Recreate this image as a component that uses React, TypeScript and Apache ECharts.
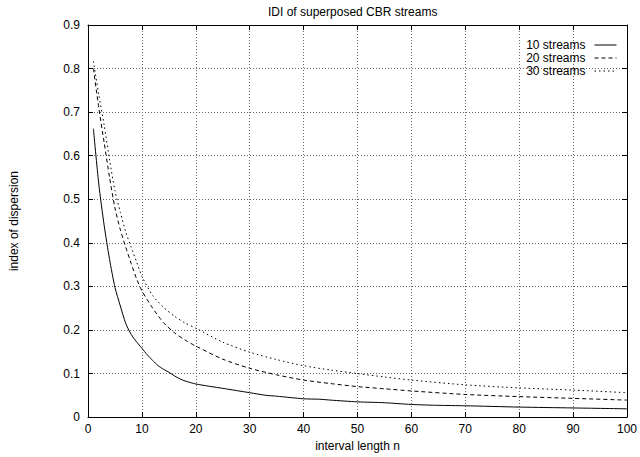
import React, { useEffect, useRef } from "react";
import * as echarts from "echarts";

const nValues10 = [1, 2, 3, 4, 5, 6, 7, 8, 9, 10, 11, 12, 13, 14, 15, 16, 17, 18, 20, 25, 30, 33, 35, 40, 43, 45, 50, 55, 60, 65, 70, 80, 90, 100];
const streams10 = [0.662, 0.535, 0.44, 0.362, 0.298, 0.255, 0.215, 0.19, 0.173, 0.158, 0.143, 0.13, 0.118, 0.11, 0.103, 0.095, 0.088, 0.083, 0.076, 0.066, 0.056, 0.05, 0.048, 0.042, 0.041, 0.039, 0.035, 0.033, 0.029, 0.027, 0.026, 0.023, 0.021, 0.019];

const nValues = [1, 2, 3, 4, 5, 6, 7, 8, 9, 10, 12, 14, 16, 18, 20, 25, 30, 35, 40, 45, 50, 55, 60, 70, 80, 90, 100];
const streams20 = [0.80, 0.71, 0.63, 0.55, 0.48, 0.43, 0.39, 0.353, 0.318, 0.29, 0.25, 0.217, 0.194, 0.177, 0.163, 0.133, 0.112, 0.097, 0.085, 0.077, 0.070, 0.065, 0.060, 0.052, 0.047, 0.043, 0.039];
const streams30 = [0.817, 0.74, 0.67, 0.59, 0.52, 0.47, 0.425, 0.39, 0.357, 0.323, 0.279, 0.252, 0.232, 0.216, 0.204, 0.172, 0.149, 0.132, 0.118, 0.108, 0.10, 0.092, 0.085, 0.074, 0.067, 0.062, 0.056];

const seriesNames = ["10 streams", "20 streams", "30 streams"];
const titleText = "IDI of superposed CBR streams";
const xAxisTitle = "interval length n";
const yAxisTitle = "index of dispersion";

const FONT = "Liberation Sans, Arial, Helvetica, sans-serif";

export default function App() {
  const ref = useRef<HTMLDivElement>(null);
  useEffect(() => {
    document.body.style.margin = "0";
    if (!ref.current) return;
    const chart = echarts.init(ref.current, undefined, { renderer: "svg" });
    const pair = (xs: number[], ys: number[]) => xs.map((x, i) => [x, ys[i]]);
    const gridLine = { show: true, lineStyle: { color: "#666", type: [1, 2], width: 1 } };
    const lineCommon = {
      type: "line",
      showSymbol: false,
      symbol: "none",
      smooth: 0.25,
      color: "#000",
    };
    chart.setOption({
      animation: false,
      backgroundColor: "#fff",
      textStyle: { fontFamily: FONT },
      title: {
        text: titleText,
        left: 268,
        top: 6,
        padding: 0,
        textStyle: { fontSize: 12, fontWeight: "normal", color: "#000", fontFamily: FONT },
      },
      legend: {
        orient: "vertical",
        right: 23,
        top: 39,
        padding: 0,
        align: "right",
        itemWidth: 22,
        itemHeight: 10,
        itemGap: 1,
        itemStyle: { opacity: 0 },
        lineStyle: { width: 1 },
        textStyle: { fontSize: 12, color: "#000", fontFamily: FONT, lineHeight: 10, padding: [0, 4, 0, 0] },
        data: seriesNames,
      },
      grid: { left: 83, right: 9, top: 25, bottom: 32, show: false },
      xAxis: [
        {
          type: "value",
          min: 0,
          max: 100,
          interval: 10,
          name: xAxisTitle,
          nameLocation: "middle",
          nameGap: 21,
          nameTextStyle: { fontSize: 12, color: "#000", fontFamily: FONT },
          axisLine: { show: true, onZero: false, lineStyle: { color: "#000", width: 1 } },
          axisTick: { show: true, inside: true, length: 5, lineStyle: { color: "#000" } },
          axisLabel: { fontSize: 12, color: "#000", margin: 6, fontFamily: FONT },
          splitLine: gridLine,
        },
        {
          type: "value",
          position: "top",
          min: 0,
          max: 100,
          interval: 10,
          axisLine: { show: true, onZero: false, lineStyle: { color: "#000", width: 1 } },
          axisTick: { show: true, inside: true, length: 5, lineStyle: { color: "#000" } },
          axisLabel: { show: false },
          splitLine: { show: false },
        },
      ],
      yAxis: [
        {
          type: "value",
          min: 0,
          max: 0.9,
          interval: 0.1,
          name: yAxisTitle,
          nameLocation: "middle",
          nameRotate: 90,
          nameGap: 68,
          nameTextStyle: { fontSize: 12, color: "#000", fontFamily: FONT },
          axisLine: { show: true, onZero: false, lineStyle: { color: "#000", width: 1 } },
          axisTick: { show: true, inside: true, length: 5, lineStyle: { color: "#000" } },
          axisLabel: {
            fontSize: 12,
            color: "#000",
            margin: 8,
            fontFamily: FONT,
            formatter: (v: number) => (v === 0 ? "0" : String(Math.round(v * 10) / 10)),
          },
          splitLine: gridLine,
        },
        {
          type: "value",
          position: "right",
          min: 0,
          max: 0.9,
          interval: 0.1,
          axisLine: { show: true, onZero: false, lineStyle: { color: "#000", width: 1 } },
          axisTick: { show: true, inside: true, length: 5, lineStyle: { color: "#000" } },
          axisLabel: { show: false },
          splitLine: { show: false },
        },
      ],
      series: [
        {
          ...lineCommon,
          name: seriesNames[0],
          data: pair(nValues10, streams10),
          lineStyle: { color: "#000", width: 1, type: "solid" },
        },
        {
          ...lineCommon,
          name: seriesNames[1],
          data: pair(nValues, streams20),
          lineStyle: { color: "#000", width: 1, type: [4, 3] },
        },
        {
          ...lineCommon,
          name: seriesNames[2],
          data: pair(nValues, streams30),
          lineStyle: { color: "#000", width: 1, type: [1.5, 3] },
        },
      ],
    });
    return () => chart.dispose();
  }, []);
  return <div ref={ref} style={{ width: 640, height: 457 }} />;
}
